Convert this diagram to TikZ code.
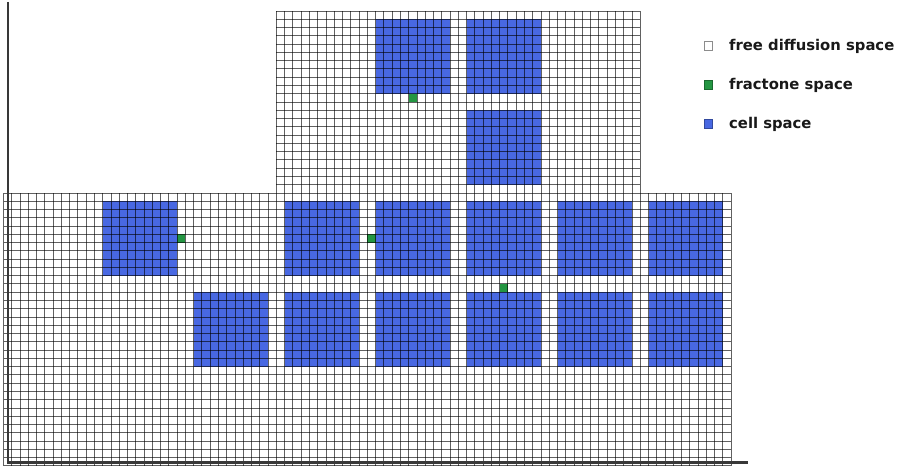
\documentclass[tikz,border=0pt]{standalone}
\usepackage{fontspec}
\setsansfont{DejaVu Sans}
\definecolor{cellblue}{RGB}{72,104,226}
\definecolor{fracgreen}{RGB}{36,150,66}
\tikzset{
  gl/.style={draw=black, draw opacity=0.62, line width=1pt},
  cellblk/.style={fill=cellblue, draw=none},
  fracblk/.style={fill=fracgreen, draw=none},
  axisline/.style={draw=black!78, line width=2.6pt},
  legsq/.style={minimum size=8.5pt, inner sep=0pt, line width=0.8pt},
  legtxt/.style={anchor=west, inner sep=0pt, font=\sffamily\bfseries\fontsize{14.8}{16}\selectfont, text=black!90}
}
\begin{document}
\begin{tikzpicture}[x=1pt,y=-1pt]
\useasboundingbox[fill=white] (0,0) rectangle (897,468);
\begin{scope}[shift={(3.5,11.06)}]
\begin{scope}[x=8.27pt,y=-8.27pt]
  % cell blocks, lower grid row 1
  \foreach \c in {12,34,45,56,67,78} \fill[cellblk] (\c,23) rectangle (\c+9,32);
  % lower grid row 2
  \foreach \c in {23,34,45,56,67,78} \fill[cellblk] (\c,34) rectangle (\c+9,43);
  % upper grid
  \foreach \c in {45,56} \fill[cellblk] (\c,1) rectangle (\c+9,10);
  \fill[cellblk] (56,12) rectangle (65,21);
  % fractone cells
  \fill[fracblk] (49,10) rectangle (50,11);
  \fill[fracblk] (21,27) rectangle (22,28);
  \fill[fracblk] (44,27) rectangle (45,28);
  \fill[fracblk] (60,33) rectangle (61,34);
  % lower grid
  \foreach \i in {0,...,88} \draw[gl] (\i,22) -- (\i,55);
  \foreach \j in {22,...,55} \draw[gl] (0,\j) -- (88,\j);
  % upper grid
  \foreach \i in {33,...,77} \draw[gl] (\i,0) -- (\i,22);
  \foreach \j in {0,...,21} \draw[gl] (33,\j) -- (77,\j);
\end{scope}
\end{scope}
% axes
\coordinate (ytop) at (8,2);
\coordinate (orig) at (8,462.5);
\coordinate (xend) at (748,462.5);
\draw[axisline] (ytop) -- (orig) -- (xend);
% legend
\node[legsq, draw=black!45, fill=white] (sq1) at (708.5,46) {};
\node[legsq, draw=fracgreen!70!black, fill=fracgreen] (sq2) at (708.5,85) {};
\node[legsq, draw=cellblue!70!black, fill=cellblue] (sq3) at (708.5,124) {};
\node[legtxt] (t1) at (729,46) {free diffusion space};
\node[legtxt] (t2) at (729,85) {fractone space};
\node[legtxt] (t3) at (729,124) {cell space};
\end{tikzpicture}
\end{document}
